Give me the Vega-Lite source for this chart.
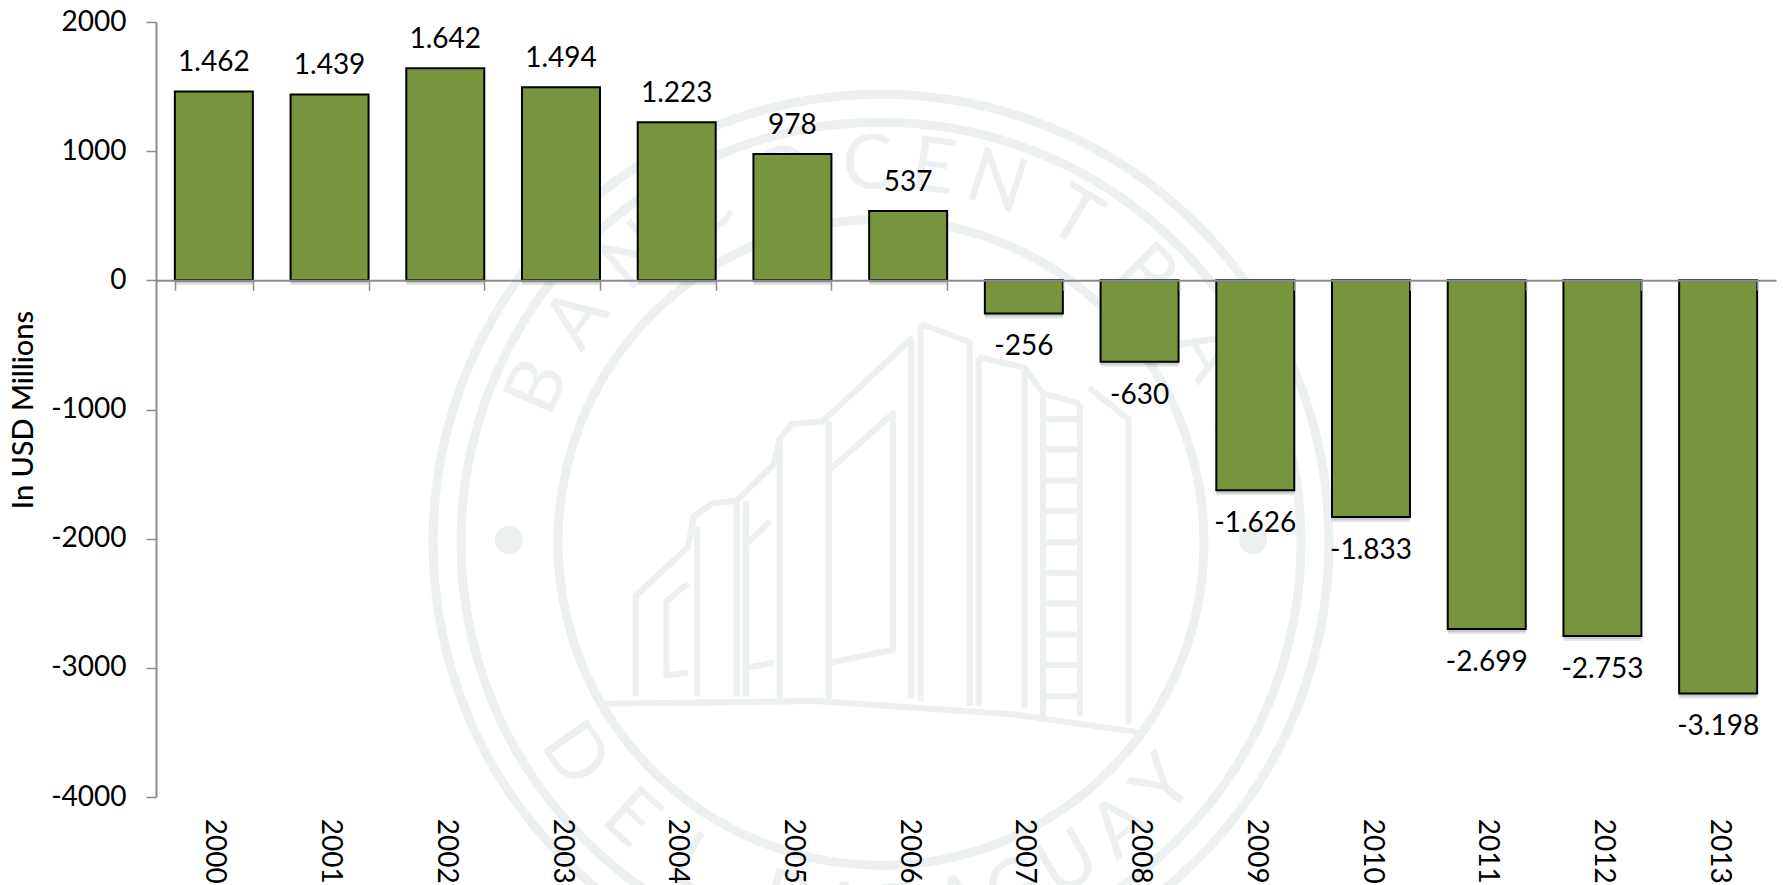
{
"$schema":"https://vega.github.io/schema/vega-lite/v6.json",
"width":1620,"height":775,
"autosize":"none",
"padding":{"left":156,"top":22,"right":7,"bottom":88},
"background":"white",
"config":{"view":{"stroke":null},"font":"Lato"},
"datasets":{
"bars":[
{"year":"2000","value":1462,"label":"1.462"},
{"year":"2001","value":1439,"label":"1.439"},
{"year":"2002","value":1642,"label":"1.642"},
{"year":"2003","value":1494,"label":"1.494"},
{"year":"2004","value":1223,"label":"1.223"},
{"year":"2005","value":978,"label":"978"},
{"year":"2006","value":537,"label":"537"},
{"year":"2007","value":-256,"label":"-256"},
{"year":"2008","value":-630,"label":"-630"},
{"year":"2009","value":-1626,"label":"-1.626"},
{"year":"2010","value":-1833,"label":"-1.833"},
{"year":"2011","value":-2699,"label":"-2.699"},
{"year":"2012","value":-2753,"label":"-2.753"},
{"year":"2013","value":-3198,"label":"-3.198"}
],
"centre":[{"sx":0,"sy":-0.5}],
"dots":[{"sx":-82.7,"sy":0},{"sx":82.7,"sy":0}],
"letters":[
{"ch":"B","sx":-76.1,"sy":33.9,"rot":-66},{"ch":"A","sx":-67.4,"sy":49.0,"rot":-54},{"ch":"N","sx":-54.7,"sy":62.9,"rot":-41},{"ch":"C","sx":-39.1,"sy":73.6,"rot":-28},{"ch":"O","sx":-21.6,"sy":80.5,"rot":-15},
{"ch":"C","sx":-2.9,"sy":83.2,"rot":-2},{"ch":"E","sx":11.6,"sy":82.5,"rot":8},{"ch":"N","sx":25.7,"sy":79.2,"rot":18},{"ch":"T","sx":42.9,"sy":71.4,"rot":31},{"ch":"R","sx":58.9,"sy":58.9,"rot":45},{"ch":"A","sx":72.1,"sy":41.7,"rot":60},{"ch":"L","sx":79.7,"sy":24.4,"rot":73},
{"ch":"D","sx":-68.2,"sy":-47.8,"rot":55},{"ch":"E","sx":-55.7,"sy":-61.9,"rot":42},{"ch":"L","sx":-41.7,"sy":-72.1,"rot":30},
{"ch":"P","sx":-21.6,"sy":-80.5,"rot":15},{"ch":"A","sx":-8.7,"sy":-82.8,"rot":6},{"ch":"R","sx":4.4,"sy":-83.2,"rot":-3},{"ch":"A","sx":17.3,"sy":-81.5,"rot":-12},{"ch":"G","sx":29.9,"sy":-77.8,"rot":-21},{"ch":"U","sx":41.7,"sy":-72.1,"rot":-30},{"ch":"A","sx":53.5,"sy":-63.8,"rot":-40},{"ch":"Y","sx":62.9,"sy":-54.6,"rot":-49}
],
"building":[
{"part":"base","i":1,"sx":-62.0,"sy":-36.4},{"part":"base","i":2,"sx":-14.4,"sy":-35.8},{"part":"base","i":3,"sx":29.2,"sy":-38.7},{"part":"base","i":4,"sx":57.1,"sy":-42.7},
{"part":"sil","i":1,"sx":-54.5,"sy":-34.7},{"part":"sil","i":2,"sx":-54.5,"sy":-12.4},{"part":"sil","i":3,"sx":-42.9,"sy":-1.6},{"part":"sil","i":4,"sx":-41.6,"sy":5.3},{"part":"sil","i":5,"sx":-37.5,"sy":8.1},{"part":"sil","i":6,"sx":-32.1,"sy":8.7},{"part":"sil","i":7,"sx":-23.9,"sy":16.7},{"part":"sil","i":8,"sx":-22.5,"sy":22.4},{"part":"sil","i":9,"sx":-19.8,"sy":25.8},{"part":"sil","i":10,"sx":-13.0,"sy":26.4},{"part":"sil","i":11,"sx":6.7,"sy":44.6},{"part":"sil","i":12,"sx":6.7,"sy":-35.2},
{"part":"v1","i":1,"sx":-40.9,"sy":3.0},{"part":"v1","i":2,"sx":-40.9,"sy":-34.7},
{"part":"v2","i":1,"sx":-32.1,"sy":8.7},{"part":"v2","i":2,"sx":-32.1,"sy":-34.7},
{"part":"v3","i":1,"sx":-30.0,"sy":8.7},{"part":"v3","i":2,"sx":-30.0,"sy":-34.7},
{"part":"v4","i":1,"sx":-22.5,"sy":22.4},{"part":"v4","i":2,"sx":-22.5,"sy":-35.2},
{"part":"v5","i":1,"sx":-11.6,"sy":26.4},{"part":"v5","i":2,"sx":-11.6,"sy":-35.2},
{"part":"w1","i":1,"sx":-11.6,"sy":-27.3},{"part":"w1","i":2,"sx":2.7,"sy":-24.4},{"part":"w1","i":3,"sx":2.7,"sy":28.1},{"part":"w1","i":4,"sx":-11.6,"sy":15.5},
{"part":"w2","i":1,"sx":-42.9,"sy":-9.6},{"part":"w2","i":2,"sx":-47.7,"sy":-13.6},{"part":"w2","i":3,"sx":-47.7,"sy":-30.1},{"part":"w2","i":4,"sx":-42.9,"sy":-29.5},
{"part":"w3","i":1,"sx":-30.0,"sy":-1.0},{"part":"w3","i":2,"sx":-24.6,"sy":4.1},
{"part":"w4","i":1,"sx":-30.0,"sy":-28.4},{"part":"w4","i":2,"sx":-23.9,"sy":-27.3},
{"part":"t1","i":1,"sx":8.8,"sy":48.0},{"part":"t1","i":2,"sx":8.8,"sy":-35.8},
{"part":"t2","i":1,"sx":8.8,"sy":48.0},{"part":"t2","i":2,"sx":19.7,"sy":44.0},{"part":"t2","i":3,"sx":19.7,"sy":-36.9},
{"part":"t3","i":1,"sx":21.7,"sy":40.6},{"part":"t3","i":2,"sx":21.7,"sy":-36.9},
{"part":"t4","i":1,"sx":31.9,"sy":38.3},{"part":"t4","i":2,"sx":31.9,"sy":-37.5},
{"part":"t5","i":1,"sx":36.0,"sy":32.6},{"part":"t5","i":2,"sx":36.0,"sy":-39.2},
{"part":"t6","i":1,"sx":44.2,"sy":30.3},{"part":"t6","i":2,"sx":44.2,"sy":-39.2},
{"part":"t7","i":1,"sx":46.2,"sy":33.8},{"part":"t7","i":2,"sx":55.0,"sy":26.9},{"part":"t7","i":3,"sx":55.0,"sy":-41.0},
{"part":"t8","i":1,"sx":21.7,"sy":40.6},{"part":"t8","i":2,"sx":31.9,"sy":38.3},{"part":"t8","i":3,"sx":36.0,"sy":32.6},{"part":"t8","i":4,"sx":44.2,"sy":30.3},
{"part":"r1","i":1,"sx":36.0,"sy":26.9},{"part":"r1","i":2,"sx":44.2,"sy":26.9},
{"part":"r2","i":1,"sx":36.0,"sy":20.1},{"part":"r2","i":2,"sx":44.2,"sy":20.1},
{"part":"r3","i":1,"sx":36.0,"sy":13.2},{"part":"r3","i":2,"sx":44.2,"sy":13.2},
{"part":"r4","i":1,"sx":36.0,"sy":6.4},{"part":"r4","i":2,"sx":44.2,"sy":6.4},
{"part":"r5","i":1,"sx":36.0,"sy":-0.5},{"part":"r5","i":2,"sx":44.2,"sy":-0.5},
{"part":"r6","i":1,"sx":36.0,"sy":-7.3},{"part":"r6","i":2,"sx":44.2,"sy":-7.3},
{"part":"r7","i":1,"sx":36.0,"sy":-14.1},{"part":"r7","i":2,"sx":44.2,"sy":-14.1},
{"part":"r8","i":1,"sx":36.0,"sy":-21.0},{"part":"r8","i":2,"sx":44.2,"sy":-21.0},
{"part":"r9","i":1,"sx":36.0,"sy":-27.8},{"part":"r9","i":2,"sx":44.2,"sy":-27.8},
{"part":"r10","i":1,"sx":36.0,"sy":-34.7},{"part":"r10","i":2,"sx":44.2,"sy":-34.7}
]
},
"resolve":{"scale":{"x":"independent","y":"independent"}},
"layer":[
{
"encoding":{
"x":{"field":"sx","type":"quantitative","axis":null,"scale":{"domain":[-161.11,198.89],"nice":false,"zero":false}},
"y":{"field":"sy","type":"quantitative","axis":null,"scale":{"domain":[-57.11,115.11],"nice":false,"zero":false}}
},
"layer":[
{"data":{"name":"centre"},"mark":{"type":"point","shape":"circle","size":802816,"filled":false,"stroke":"#ecf0f0","strokeWidth":9,"opacity":1,"clip":false}},
{"data":{"name":"centre"},"mark":{"type":"point","shape":"circle","size":705600,"filled":false,"stroke":"#ecf0f0","strokeWidth":9,"opacity":1,"clip":false}},
{"data":{"name":"centre"},"mark":{"type":"point","shape":"circle","size":417316,"filled":false,"stroke":"#ecf0f0","strokeWidth":9,"opacity":1,"clip":false}},
{"data":{"name":"dots"},"mark":{"type":"point","shape":"circle","size":784,"filled":true,"fill":"#ecf0f0","opacity":1,"stroke":null}},
{"data":{"name":"building"},"mark":{"type":"line","stroke":"#ecf0f0","strokeWidth":6,"strokeJoin":"round","clip":false},
 "encoding":{"detail":{"field":"part","type":"nominal"},"order":{"field":"i","type":"quantitative"}}},
{"data":{"name":"letters"},"mark":{"type":"text","font":"Lato","fontWeight":400,"fontSize":76,"fill":"#ecf0f0","align":"center","baseline":"middle"},
 "encoding":{"text":{"field":"ch","type":"nominal"},"angle":{"field":"rot","type":"quantitative","scale":null}}}
]
},
{
"data":{"name":"bars"},
"encoding":{
"x":{"field":"year","type":"ordinal","sort":null,"title":null,
 "scale":{"paddingInner":0.326,"paddingOuter":0.163},
 "axis":{"orient":"bottom","offset":-516.67,"zindex":1,"tickBand":"extent","tickSize":10,"tickColor":"#8c8c8c","tickWidth":1.5,"domainColor":"#8c8c8c","domainWidth":2,"labelAngle":90,"labelAlign":"left","labelBaseline":"middle","labelPadding":528,"labelFont":"Lato","labelFontSize":28,"labelColor":"#000000","labelOverlap":false,"labelFlush":false,"labelBound":false}},
"y":{"field":"value","type":"quantitative","scale":{"domain":[-4000,2000],"nice":false,"zero":false},
 "axis":{"orient":"left","values":[-4000,-3000,-2000,-1000,0,1000,2000],"labelExpr":"toString(datum.value)","grid":false,"tickSize":10,"tickColor":"#8c8c8c","tickWidth":1.5,"domainColor":"#8c8c8c","domainWidth":2,"labelPadding":20,"labelFont":"Lato","labelFontSize":28,"labelColor":"#000000","title":"In USD Millions","titleFont":"Lato","titleFontSize":29,"titleFontWeight":500,"titleColor":"#000000","titlePadding":12}}
},
"layer":[
{"mark":{"type":"bar","fill":"#000000","opacity":0.1,"yOffset":5,"y2Offset":5},"encoding":{"y2":{"datum":0}}},
{"mark":{"type":"bar","fill":"#000000","opacity":0.12,"yOffset":3,"y2Offset":3},"encoding":{"y2":{"datum":0}}},
{"mark":{"type":"bar","fill":"#78943c","stroke":"#000000","strokeWidth":2},"encoding":{"y2":{"datum":0}}},
{"transform":[{"filter":"datum.value >= 0"}],"mark":{"type":"text","font":"Lato","fontSize":28,"fill":"#000000","align":"center","baseline":"alphabetic","dy":-20},"encoding":{"text":{"field":"label","type":"nominal"}}},
{"transform":[{"filter":"datum.value < 0"}],"mark":{"type":"text","font":"Lato","fontSize":28,"fill":"#000000","align":"center","baseline":"alphabetic","dy":42},"encoding":{"text":{"field":"label","type":"nominal"}}}
]
}
]
}
